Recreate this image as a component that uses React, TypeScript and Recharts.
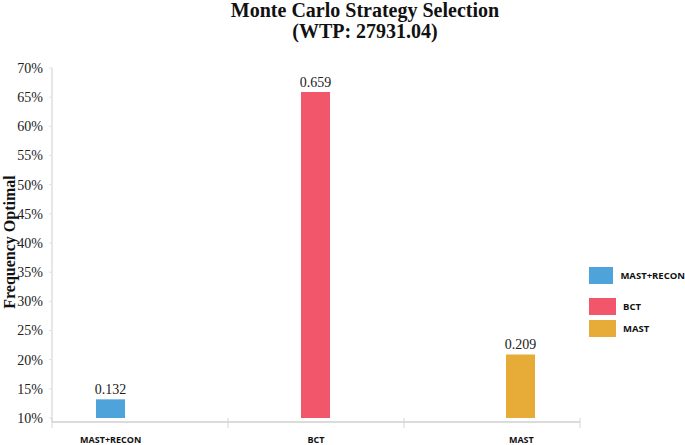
import React from "react";
import { BarChart, Bar, XAxis, YAxis, Legend, LabelList } from "recharts";

const categories = ["MAST+RECON", "BCT", "MAST"];
const frequencies = [0.132, 0.659, 0.209];
const seriesKeys = ["mastRecon", "bct", "mast"];
const colors = ["#4FA3DB", "#F2566B", "#E7AB38"];
const yTicks = [0.1, 0.15, 0.2, 0.25, 0.3, 0.35, 0.4, 0.45, 0.5, 0.55, 0.6, 0.65, 0.7];

// one row per category, each series only filled in its own category
const data = categories.map((name, i) => {
  const row: any = { name };
  seriesKeys.forEach((k, j) => {
    row[k] = i === j ? frequencies[i] : null;
  });
  return row;
});

const XTick = (props: any) => {
  const { x, y, payload, index } = props;
  const band = payload.offset ? payload.offset * 2 : 174;
  const shift = index === 0 ? -band / 6 : index === categories.length - 1 ? band / 6 : 0;
  return (
    <g>
      <line x1={x - band / 2} x2={x - band / 2} y1={y - 4} y2={y + 6} stroke="#d4d4d4" />
      {index === categories.length - 1 && (
        <line x1={x + band / 2} x2={x + band / 2} y1={y - 4} y2={y + 6} stroke="#d4d4d4" />
      )}
      <text
        x={x + shift}
        y={y + 21}
        textAnchor="middle"
        fill="#111"
        fontFamily="'Open Sans', sans-serif"
        fontWeight="bold"
        fontSize={9}
      >
        {payload.value}
      </text>
    </g>
  );
};

const YLabel = (props: any) => {
  const vb = props.viewBox;
  const cx = vb.x + 15;
  const cy = vb.y + vb.height / 2 - 3;
  return (
    <text
      x={cx}
      y={cy}
      transform={`rotate(-90, ${cx}, ${cy})`}
      textAnchor="middle"
      fill="#111"
      fontFamily="'Liberation Serif', serif"
      fontWeight="bold"
      fontSize={16}
    >
      Frequency Optimal
    </text>
  );
};

const LegendBox = () => (
  <div style={{ fontFamily: "'Open Sans', sans-serif", fontWeight: "bold", fontSize: 9.5, color: "#111" }}>
    {categories.map((c, i) => (
      <div key={c} style={{ display: "flex", alignItems: "center", marginBottom: i === 0 ? 14 : 5 }}>
        <div style={{ width: 27, height: 17, background: colors[i], marginRight: 7 }} />
        <span>{c}</span>
      </div>
    ))}
  </div>
);

export default function App() {
  return (
    <div style={{ position: "absolute", left: 0, top: 0, width: 685, height: 445, background: "#fff" }}>
      <div
        style={{
          position: "absolute",
          left: 0,
          top: 0,
          width: 730,
          textAlign: "center",
          fontFamily: "'Liberation Serif', serif",
          fontWeight: "bold",
          fontSize: 20,
          lineHeight: "21px",
          color: "#111",
        }}
      >
        Monte Carlo Strategy Selection
        <br />
        (WTP: 27931.04)
      </div>
      <BarChart
        width={685}
        height={445}
        data={data}
        margin={{ top: 68, right: 105, bottom: 0, left: 0 }}
        barCategoryGap="25%"
        barGap={0}
        style={{ position: "absolute", left: 0, top: 0 }}
      >
        <XAxis
          dataKey="name"
          height={23}
          tickLine={false}
          tickSize={0}
          tickMargin={0}
          axisLine={{ stroke: "#cfcfcf", strokeWidth: 1.5 }}
          tick={<XTick />}
          interval={0}
        />
        <YAxis
          width={52}
          domain={[0.1, 0.7]}
          ticks={yTicks}
          allowDataOverflow
          padding={{ top: 0, bottom: 4 }}
          tickFormatter={(v: number) => `${Math.round(v * 100)}%`}
          tick={{ fill: "#222", fontFamily: "'Liberation Serif', serif", fontSize: 14 }}
          tickSize={3}
          tickMargin={6}
          tickLine={{ stroke: "#e0e0e0" }}
          axisLine={{ stroke: "#cfcfcf" }}
          label={YLabel}
        />
        <Legend
          layout="horizontal"
          verticalAlign="middle"
          align="center"
          content={LegendBox}
          wrapperStyle={{ left: 589, top: 267, width: 96, right: "auto", bottom: "auto" }}
        />
        {seriesKeys.map((k, i) => (
          <Bar key={k} dataKey={k} name={categories[i]} fill={colors[i]} isAnimationActive={false}>
            <LabelList
              dataKey={k}
              position="top"
              offset={5}
              fill="#222"
              fontFamily="'Liberation Serif', serif"
              fontSize={14}
              formatter={(v: any) => (v == null ? "" : String(v))}
            />
          </Bar>
        ))}
      </BarChart>
    </div>
  );
}
